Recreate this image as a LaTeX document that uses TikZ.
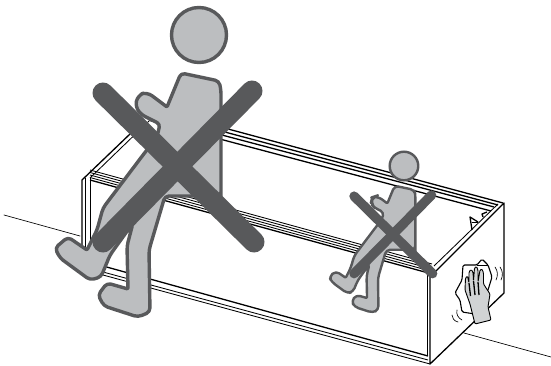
\documentclass[tikz,border=0pt]{standalone}
\definecolor{figfill}{HTML}{BCBEC0}
\definecolor{figline}{HTML}{58595B}
\definecolor{handfill}{HTML}{D1D3D4}
\tikzset{
  x=1pt,y=-1pt,
  heavy/.style={draw=black,line width=1.3pt,line join=round},
  fine/.style={draw=black,line width=.85pt,line join=round},
  hair/.style={draw=black,line width=.65pt,line cap=round},
  figbody/.style={fill=figfill,draw=figline,line width=#1,line join=round,rounded corners=3.5pt},
  figcross/.style={draw=figline,line width=#1,line cap=round},
}
\newcommand{\personfig}[2]{%
  \path[figbody=#1] (103,208) -- (143,155) -- (157,137) -- (160,124) -- (142,115)
     [rounded corners=6pt] -- (135,107) -- (138,95) -- (147,92) [rounded corners=1pt] -- (167,107)
     [rounded corners=4pt] -- (181,73) -- (219,81) -- (221,90) -- (221,192) -- (221,196) -- (165,196)
     -- (149,250) -- (150,312) -- (138,317) -- (104,306) -- (98,295) -- (107,283)
     [rounded corners=1pt] -- (128,289) [rounded corners=4pt] -- (127,246) -- (133,223)
     -- (110,255) -- (101,277) -- (90,280) -- (60,258) -- (55,248) -- (68,237)
     [rounded corners=1pt] -- (87,250) [rounded corners=4pt] -- (97,230) -- cycle;
  \path[fill=figfill,draw=figline,line width=#1] (199,35) circle[radius=27.5];
  \draw[figcross=#2] (103,93) -- (254,242);
  \draw[figcross=#2] (252,91) -- (103,242);
}
\begin{document}
\begin{tikzpicture}
\useasboundingbox (0,0) rectangle (551,366);
% floor
\draw[hair] (4,215) -- (80,236);
\draw[hair] (464,333) -- (551,357);
% box outline
\draw[heavy] (130,134) -- (82,180) -- (82,248);
\draw[fine] (85.5,178) -- (85.5,248);
\draw[fine] (90,177) -- (90,240);
\draw[fine] (90,178) -- (150,120);
\draw[heavy] (504,203) -- (504,293) -- (430,364) -- (430,277) -- cycle;
\draw[fine] (427.5,272) -- (427.5,356);
\draw[fine] (434,266) -- (498,204);
% back rim
\draw[heavy] (150,108) -- (503,203);
\draw[heavy] (150,112) -- (498,205);
\draw[heavy] (150,116) -- (494,207);
\draw[heavy] (150,120.5) -- (491,211);
% front rim
\draw[fine] (90,170) -- (432,264);
\draw[fine] (90,172.5) -- (432,266.5);
\draw[fine] (90,175) -- (432,269);
\draw[fine] (90,177.5) -- (432,271.5);
\draw[heavy] (90,180) -- (432,274);
% bottom rim
\draw[heavy] (103,266) -- (428,356);
\draw[fine] (103,272) -- (428,360);
\draw[fine] (103,275) -- (430,364);
% marks inside the right end
\draw[heavy] (472,230) -- (470,217) -- (478,222);
\draw[fine] (472,222) -- (478,222);
\draw[heavy] (483,217) -- (482,214) -- (487,212);
% large figure
\personfig{3.4pt}{21pt}
% small figure
\begin{scope}[shift={(300.5,147.8)},scale=.52]
\personfig{2.4pt}{9.5pt}
\end{scope}
% cloth
\draw[fill=white,draw=black,line width=1.1pt,line join=round,rounded corners=1.5pt]
  (463,265) -- (477,265) -- (482,259) -- (488,265) -- (492,277) -- (488,290) -- (475,314)
  -- (462,312) -- (460,300) -- (455,293) -- (462,280) -- cycle;
\draw[hair] (477,265) -- (488,265);
% hand
\draw[fill=handfill,draw=black,line width=.9pt,line join=round,rounded corners=1pt]
  (475,324) -- (470,304) -- (465,290) -- (465.5,278) -- (467.5,276) -- (469,283)
  -- (469,272) -- (471,269.5) -- (473,272) -- (473.5,281)
  -- (474.5,268) -- (476.5,266.5) -- (478,270) -- (478,282)
  -- (480,270) -- (482,269) -- (483.5,273) -- (483.5,284)
  -- (490,294) -- (488,307) -- (491,320) -- cycle;
\draw[line width=1.3pt] (469,283) -- (470.5,296);
\draw[line width=1.3pt] (473.5,281) -- (475,295);
\draw[line width=1.3pt] (478,282) -- (479,295);
% motion marks
\draw[hair] (495,267) .. controls (498,271) and (498,276) .. (496,280);
\draw[hair] (500,267) .. controls (503,271) and (503,276) .. (501,280);
\draw[hair] (457,310) .. controls (456,314) and (458,318) .. (462,320);
\draw[hair] (452,315) .. controls (452,318) and (454,321) .. (458,322);
\end{tikzpicture}
\end{document}
